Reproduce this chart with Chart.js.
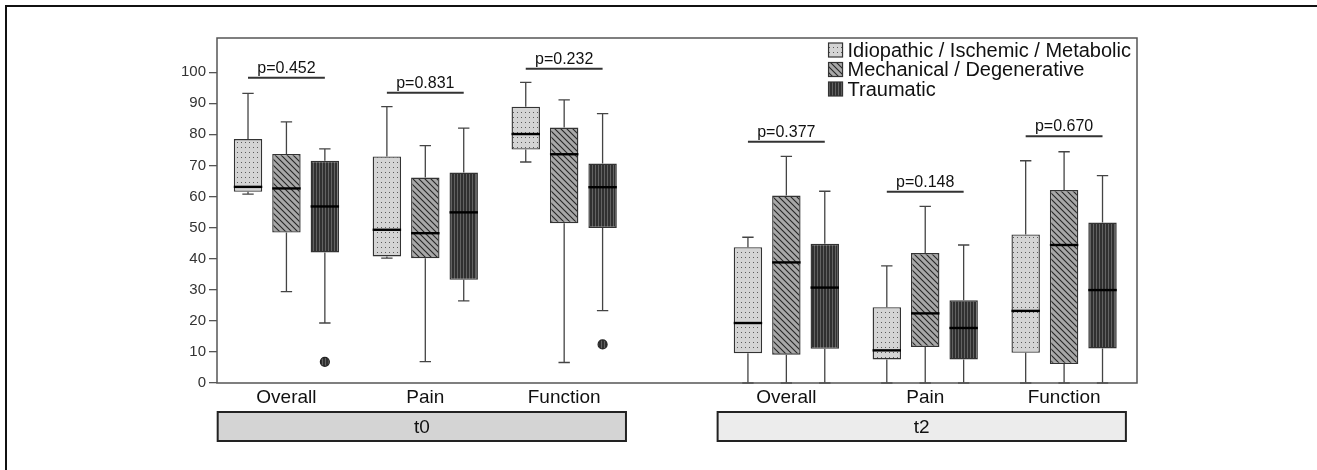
<!DOCTYPE html>
<html lang="en">
<head>
<meta charset="UTF-8">
<title>Scores by etiology, t0 / t2</title>
<script src="https://cdn.jsdelivr.net/npm/chart.js@4.4.1/dist/chart.umd.min.js"></script>
<style>
  html, body { margin: 0; padding: 0; background: #fff; }
  canvas { display: block; }
</style>
</head>
<body>
<canvas id="chart" width="1317" height="470"></canvas>
<script>
// --- data ---
const categories = ['Overall', 'Pain', 'Function', 'Overall', 'Pain', 'Function'];
const periods = ['t0', 't2'];
const seriesNames = ['Idiopathic / Ischemic / Metabolic', 'Mechanical / Degenerative', 'Traumatic'];
const yTicks = [0, 10, 20, 30, 40, 50, 60, 70, 80, 90, 100];

const idioMin = [60.8, 40.2, 71.1, 0, 0, 0];
const idioQ1  = [61.5, 40.7, 75.1, 9.6, 7.6, 9.7];
const idioMed = [63.1, 49.3, 80.1, 19.3, 10.5, 23.2];
const idioQ3  = [78.5, 72.9, 88.9, 43.7, 24.4, 47.8];
const idioMax = [93.2, 88.9, 96.7, 46.9, 37.7, 71.5];

const mechMin = [29.4, 6.9, 6.6, 0, 0, 0];
const mechQ1  = [48.4, 40.1, 51.4, 9.1, 11.6, 6.1];
const mechMed = [62.6, 48.2, 73.6, 38.8, 22.4, 44.4];
const mechQ3  = [73.7, 66.1, 82.2, 60.3, 41.8, 62.1];
const mechMax = [84.0, 76.4, 91.1, 72.9, 56.8, 74.4];

const traumMin = [19.3, 26.4, 23.3, 0, 0, 0];
const traumQ1  = [42.0, 33.2, 49.9, 11.0, 7.6, 11.1];
const traumMed = [56.8, 54.9, 63.0, 30.7, 17.7, 29.9];
const traumQ3  = [71.5, 67.7, 70.6, 44.8, 26.6, 51.6];
const traumMax = [75.3, 82.0, 86.7, 61.7, 44.4, 66.7];
const traumOutliers = [[6.8], [], [12.4], [], [], []];

const pLabels = ['p=0.452', 'p=0.831', 'p=0.232', 'p=0.377', 'p=0.148', 'p=0.670'];
const pLevels = [98.2, 93.4, 101.1, 77.6, 61.5, 79.4];

// --- styling ---
const FONT = '"Liberation Sans", Arial, sans-serif';

const stats = [
  { min: idioMin, q1: idioQ1, med: idioMed, q3: idioQ3, max: idioMax, out: [[], [], [], [], [], []] },
  { min: mechMin, q1: mechQ1, med: mechMed, q3: mechQ3, max: mechMax, out: [[], [], [], [], [], []] },
  { min: traumMin, q1: traumQ1, med: traumMed, q3: traumQ3, max: traumMax, out: traumOutliers }
];

function makePattern(kind) {
  const c = document.createElement('canvas');
  const g = c.getContext('2d');
  if (kind === 'dots') {
    c.width = 4; c.height = 5;
    g.fillStyle = '#d4d4d4'; g.fillRect(0, 0, 4, 5);
    g.fillStyle = '#5a5a5a'; g.fillRect(1, 2, 1, 1);
  } else if (kind === 'diag') {
    c.width = 6; c.height = 6;
    g.fillStyle = '#a8a8a8'; g.fillRect(0, 0, 6, 6);
    g.strokeStyle = '#262626'; g.lineWidth = 1.1;
    g.beginPath();
    g.moveTo(-1, -1); g.lineTo(7, 7);
    g.moveTo(-1, 5); g.lineTo(1, 7);
    g.moveTo(5, -1); g.lineTo(7, 1);
    g.stroke();
  } else {
    c.width = 3; c.height = 2;
    g.fillStyle = '#303030'; g.fillRect(0, 0, 3, 2);
    g.fillStyle = '#626262'; g.fillRect(1, 0, 1, 2);
  }
  return g.createPattern(c, 'repeat');
}
const patterns = [makePattern('dots'), makePattern('diag'), makePattern('vert')];
const periodFills = ['#d4d4d4', '#ececec'];

// group centres on the x axis: t2 block set a bit apart from t0
const groupX = categories.map((c, i) => i + (i >= 3 ? 0.6 : 0));

const datasets = seriesNames.map((name, s) => ({
  label: name,
  data: categories.map((c, i) => ({ x: groupX[i], y: [stats[s].q1[i], stats[s].q3[i]] })),
  backgroundColor: patterns[s],
  borderColor: '#333',
  borderWidth: 1.4,
  borderSkipped: false,
  categoryPercentage: 0.83,
  barPercentage: 0.74
}));

const framePlugin = {
  id: 'frame',
  beforeDraw(chart) {
    const { ctx, width, height } = chart;
    ctx.save();
    ctx.fillStyle = '#fff';
    ctx.fillRect(0, 0, width, height);
    ctx.strokeStyle = '#111';
    ctx.lineWidth = 2;
    ctx.beginPath();
    ctx.moveTo(6, height); ctx.lineTo(6, 6); ctx.lineTo(width, 6);
    ctx.stroke();
    ctx.restore();
  }
};

const boxPlugin = {
  id: 'boxExtras',
  afterDatasetsDraw(chart) {
    const { ctx, scales: { y } } = chart;
    ctx.save();
    stats.forEach((st, s) => {
      const meta = chart.getDatasetMeta(s);
      meta.data.forEach((bar, i) => {
        const x = bar.x, w = bar.width, cap = w * 0.4;
        const pMax = y.getPixelForValue(st.max[i]);
        const pQ3 = y.getPixelForValue(st.q3[i]);
        const pQ1 = y.getPixelForValue(st.q1[i]);
        const pMin = y.getPixelForValue(st.min[i]);
        const pMed = y.getPixelForValue(st.med[i]);
        ctx.strokeStyle = '#444';
        ctx.lineWidth = 1.3;
        ctx.beginPath();
        ctx.moveTo(x, pQ3); ctx.lineTo(x, pMax);
        ctx.moveTo(x - cap / 2, pMax); ctx.lineTo(x + cap / 2, pMax);
        ctx.moveTo(x, pQ1); ctx.lineTo(x, pMin);
        ctx.moveTo(x - cap / 2, pMin); ctx.lineTo(x + cap / 2, pMin);
        ctx.stroke();
        ctx.strokeStyle = '#000';
        ctx.lineWidth = 2.4;
        ctx.beginPath();
        ctx.moveTo(x - w / 2, pMed); ctx.lineTo(x + w / 2, pMed);
        ctx.stroke();
        st.out[i].forEach(v => {
          ctx.beginPath();
          ctx.arc(x, y.getPixelForValue(v), 4.5, 0, Math.PI * 2);
          ctx.fillStyle = patterns[s];
          ctx.fill();
          ctx.strokeStyle = '#222';
          ctx.lineWidth = 1.2;
          ctx.stroke();
        });
      });
    });

    // p-value brackets
    const first = chart.getDatasetMeta(0), last = chart.getDatasetMeta(2);
    ctx.font = '16px ' + FONT;
    ctx.textAlign = 'center';
    ctx.textBaseline = 'alphabetic';
    pLabels.forEach((txt, i) => {
      const x1 = first.data[i].x, x2 = last.data[i].x;
      const py = y.getPixelForValue(pLevels[i]);
      ctx.strokeStyle = '#333';
      ctx.lineWidth = 2;
      ctx.beginPath();
      ctx.moveTo(x1, py); ctx.lineTo(x2, py);
      ctx.stroke();
      ctx.fillStyle = '#111';
      ctx.fillText(txt, (x1 + x2) / 2, py - 5);
    });
    ctx.restore();
  },
  afterDraw(chart) {
    const { ctx, chartArea: a, scales: { x } } = chart;
    ctx.save();
    // plot frame
    ctx.strokeStyle = '#555';
    ctx.lineWidth = 1.5;
    ctx.strokeRect(a.left, a.top, a.right - a.left, a.bottom - a.top);

    // period bands under the axis
    periods.forEach((p, k) => {
      const mid = groupX[k * 3 + 1] - 0.025;
      const l = x.getPixelForValue(mid - 1.47), r = x.getPixelForValue(mid + 1.47);
      const top = a.bottom + 29, h = 29;
      ctx.fillStyle = periodFills[k];
      ctx.fillRect(l, top, r - l, h);
      ctx.strokeStyle = '#222';
      ctx.lineWidth = 2;
      ctx.strokeRect(l, top, r - l, h);
      ctx.fillStyle = '#111';
      ctx.font = '19px ' + FONT;
      ctx.textAlign = 'center';
      ctx.textBaseline = 'middle';
      ctx.fillText(p, (l + r) / 2, top + h / 2 + 1);
    });

    // legend, top right inside the plot
    ctx.font = '20px ' + FONT;
    const maxW = Math.max(...seriesNames.map(n => ctx.measureText(n).width));
    const lx = a.right - 5 - maxW - 20;
    seriesNames.forEach((n, s) => {
      const ry = a.top + 5 + s * 19.5;
      ctx.fillStyle = patterns[s];
      ctx.fillRect(lx, ry, 14, 14);
      ctx.strokeStyle = '#333';
      ctx.lineWidth = 1.2;
      ctx.strokeRect(lx, ry, 14, 14);
      ctx.fillStyle = '#111';
      ctx.textAlign = 'left';
      ctx.textBaseline = 'middle';
      ctx.fillText(n, lx + 19, ry + 8);
    });
    ctx.restore();
  }
};

new Chart(document.getElementById('chart'), {
  type: 'bar',
  data: { datasets },
  options: {
    responsive: false,
    animation: false,
    devicePixelRatio: 1,
    layout: { padding: { top: 38, right: 180, left: 0, bottom: 0 } },
    plugins: { legend: { display: false }, tooltip: { enabled: false } },
    scales: {
      x: {
        type: 'linear',
        min: -0.5,
        max: 6.125,
        offset: false,
        grid: { display: false, drawTicks: false },
        border: { display: false },
        afterBuildTicks: axis => { axis.ticks = groupX.map(v => ({ value: v })); },
        afterFit: axis => { axis.height = 87; },
        ticks: {
          autoSkip: false,
          maxRotation: 0,
          padding: 3,
          color: '#111',
          font: { family: FONT, size: 19 },
          callback: (v, i) => categories[i]
        }
      },
      y: {
        min: 0,
        max: 111,
        grid: { drawOnChartArea: false, color: '#555', tickLength: 8, lineWidth: 1.3 },
        border: { display: false },
        afterBuildTicks: axis => { axis.ticks = yTicks.map(v => ({ value: v })); },
        afterFit: axis => { axis.width = 217; },
        ticks: {
          padding: 3,
          color: '#333',
          font: { family: FONT, size: 15 }
        }
      }
    }
  },
  plugins: [framePlugin, boxPlugin]
});
</script>
</body>
</html>
